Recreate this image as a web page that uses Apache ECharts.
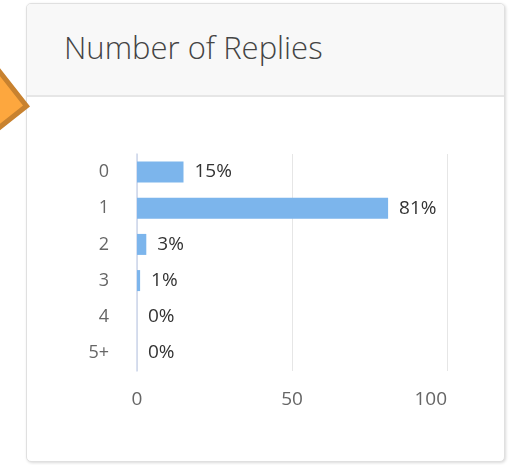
<!DOCTYPE html>
<html>
<head>
<meta charset="utf-8">
<title>Number of Replies</title>
<script src="https://cdn.jsdelivr.net/npm/echarts@6/dist/echarts.min.js"></script>
<style>
  html, body { margin: 0; padding: 0; background: #fff; }
  body { width: 510px; height: 465px; position: relative; overflow: hidden; font-family: "Open Sans", sans-serif; }
  /* card around the chart */
  .card {
    position: absolute; left: 26px; top: 3px; width: 479px; height: 459px;
    box-sizing: border-box; border: 1px solid #e0e0e0; border-radius: 5px;
    box-shadow: 1px 1px 3px rgba(0, 0, 0, 0.15); background: #fff; overflow: hidden;
  }
  .card-head {
    height: 91px; background: #f8f8f8; border-bottom: 2px solid #e6e6e6;
  }
  .title {
    position: absolute; left: 64px; top: 26px; font-size: 31px; line-height: 42px;
    font-weight: 300; color: #444; white-space: nowrap;
  }
  /* orange pointer on the left */
  .pointer { position: absolute; left: 0; top: 0; width: 60px; height: 160px; }
  #chart { position: absolute; left: 0; top: 0; width: 510px; height: 465px; }
</style>
</head>
<body>
<div class="card"><div class="card-head"></div></div>
<div class="title">Number of Replies</div>
<svg class="pointer" viewBox="0 0 60 160">
  <polygon points="26.5,106 -8,62 -55,97 -19,142" fill="#fda73e" stroke="#c8822f" stroke-width="5" stroke-linejoin="miter"/>
</svg>
<div id="chart"></div>
<script>
// 回复数分类
const categories = ['0', '1', '2', '3', '4', '5+'];
// 各分类占比(%)
const percents = [15, 81, 3, 1, 0, 0];
// 横轴刻度
const axisMin = 0;
const axisMax = 100;
const axisStep = 50;

const chart = echarts.init(document.getElementById('chart'));

const option = {
  backgroundColor: 'transparent',
  animation: false,
  textStyle: { fontFamily: 'Open Sans' },
  grid: { left: 137, right: 63, top: 154, bottom: 94 },
  xAxis: {
    type: 'value',
    min: axisMin,
    max: axisMax,
    interval: axisStep,
    axisLine: { show: false },
    axisTick: { show: false },
    splitLine: { show: true, lineStyle: { color: '#e6e6e6', width: 1 } },
    axisLabel: {
      color: '#666',
      fontSize: 19,
      margin: 19,
      alignMaxLabel: 'right'
    }
  },
  yAxis: {
    type: 'category',
    data: categories,
    inverse: true,
    axisLine: { show: true, lineStyle: { color: '#ccd6eb', width: 1.5 } },
    axisTick: { show: false },
    axisLabel: { color: '#666', fontSize: 18, margin: 28 }
  },
  series: [{
    type: 'bar',
    data: percents,
    barWidth: 21,
    itemStyle: { color: '#7cb5ec' },
    label: {
      show: true,
      position: 'right',
      distance: 11,
      formatter: '{c}%',
      color: '#333',
      fontSize: 19
    }
  }]
};

chart.setOption(option);
</script>
</body>
</html>
